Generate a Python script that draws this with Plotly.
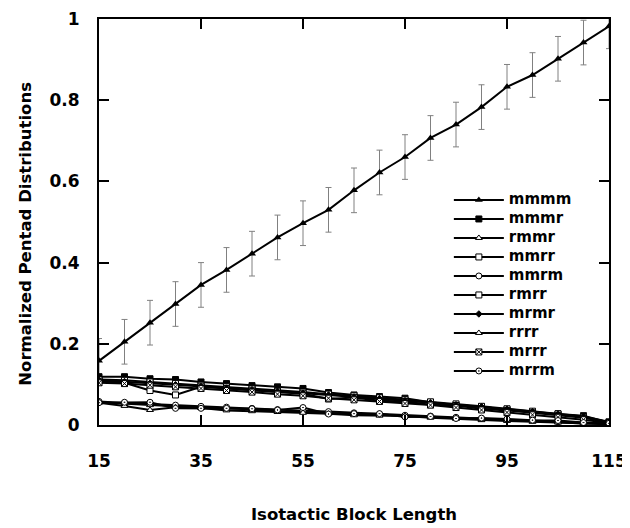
import plotly.graph_objects as go

# 等规嵌段长度
block_len = [15, 20, 25, 30, 35, 40, 45, 50, 55, 60, 65, 70, 75, 80, 85, 90, 95, 100, 105, 110, 115]

mmmm = [0.158, 0.205, 0.252, 0.298, 0.345, 0.382, 0.422, 0.462, 0.497, 0.530, 0.578,
        0.622, 0.660, 0.707, 0.740, 0.783, 0.833, 0.862, 0.902, 0.942, 0.982]
mmmm_err = [0.055] * 21
mmmr = [0.119, 0.119, 0.114, 0.112, 0.106, 0.102, 0.097, 0.094, 0.090, 0.080, 0.074,
        0.070, 0.066, 0.056, 0.049, 0.045, 0.038, 0.031, 0.027, 0.023, 0.006]
rmmr = [0.056, 0.052, 0.049, 0.046, 0.044, 0.041, 0.038, 0.034, 0.032, 0.030, 0.027,
        0.025, 0.022, 0.020, 0.017, 0.014, 0.012, 0.009, 0.007, 0.004, 0.002]
mmrr = [0.112, 0.110, 0.106, 0.102, 0.098, 0.094, 0.090, 0.085, 0.081, 0.076, 0.072,
        0.067, 0.062, 0.057, 0.052, 0.046, 0.040, 0.034, 0.028, 0.021, 0.008]
mmrm = [0.058, 0.054, 0.052, 0.049, 0.046, 0.044, 0.041, 0.038, 0.035, 0.033, 0.030,
        0.027, 0.024, 0.022, 0.019, 0.016, 0.013, 0.011, 0.008, 0.005, 0.003]
rmrr = [0.108, 0.104, 0.085, 0.074, 0.094, 0.090, 0.086, 0.082, 0.077, 0.064, 0.068,
        0.060, 0.058, 0.050, 0.048, 0.040, 0.036, 0.030, 0.024, 0.018, 0.006]
mrmr = [0.110, 0.107, 0.103, 0.099, 0.095, 0.091, 0.087, 0.083, 0.078, 0.074, 0.069,
        0.065, 0.060, 0.055, 0.050, 0.045, 0.039, 0.033, 0.027, 0.020, 0.007]
rrrr = [0.055, 0.047, 0.037, 0.044, 0.042, 0.036, 0.034, 0.032, 0.030, 0.028, 0.024,
        0.023, 0.022, 0.018, 0.015, 0.012, 0.010, 0.008, 0.006, 0.004, 0.002]
mrrr = [0.104, 0.102, 0.098, 0.094, 0.090, 0.085, 0.081, 0.076, 0.072, 0.066, 0.062,
        0.058, 0.053, 0.049, 0.043, 0.037, 0.031, 0.025, 0.019, 0.013, 0.005]
mrrm = [0.055, 0.056, 0.056, 0.041, 0.041, 0.041, 0.040, 0.037, 0.043, 0.027, 0.028,
        0.028, 0.020, 0.021, 0.016, 0.017, 0.015, 0.012, 0.011, 0.006, 0.004]

x_ticks = [15, 35, 55, 75, 95, 115]
y_ticks = [0, 0.2, 0.4, 0.6, 0.8, 1]

FONT = "DejaVu Sans"

# 名称, 数据, 符号, 填充色, 大小
series = [
    ("mmmr", mmmr, "square", "black", 6),
    ("rmmr", rmmr, "triangle-up", "white", 6),
    ("mmrr", mmrr, "square", "white", 6),
    ("mmrm", mmrm, "circle", "white", 6),
    ("rmrr", rmrr, "square", "white", 6),
    ("mrmr", mrmr, "diamond", "black", 5),
    ("rrrr", rrrr, "triangle-up", "white", 6),
    ("mrrr", mrrr, "square-x", "white", 6),
    ("mrrm", mrrm, "circle-dot", "white", 6),
]

fig = go.Figure()

# mmmm 带误差棒
fig.add_trace(go.Scatter(
    x=block_len, y=mmmm, name='<span style="font-size:15px">mmmm</span>',
    mode="lines+markers",
    line=dict(color="black", width=2),
    marker=dict(symbol="triangle-up", color="black", size=7),
    error_y=dict(type="data", array=mmmm_err, color="#808080", thickness=1, width=3),
))

for name, vals, sym, fill, size in series:
    fig.add_trace(go.Scatter(
        x=block_len, y=vals, name=f'<span style="font-size:15px">{name}</span>',
        mode="lines+markers",
        line=dict(color="black", width=2),
        marker=dict(symbol=sym, color=fill, size=size, line=dict(color="black", width=1)),
    ))

axis_common = dict(
    showline=True, linecolor="black", linewidth=2, mirror="ticks",
    ticks="inside", ticklen=10, tickwidth=2, tickcolor="black",
    showgrid=False, zeroline=False, automargin=False,
    tickfont=dict(family=FONT, size=17, color="black", weight="bold"),
)

fig.update_xaxes(
    range=[15, 115], tickvals=x_ticks, ticklabelstandoff=20,
    title=dict(text="Isotactic Block Length", standoff=38,
               font=dict(family=FONT, size=16.5, color="black", weight="bold")),
    **axis_common,
)
fig.update_yaxes(range=[0, 1], tickvals=y_ticks, ticklabelstandoff=14, **axis_common)

# y 轴标题（略低于图区中心）
fig.add_annotation(
    text="Normalized Pentad Distributions", textangle=-90,
    xref="paper", yref="paper", x=-0.144, y=0.47, xanchor="center", yanchor="middle",
    showarrow=False, font=dict(family=FONT, size=16.5, color="black", weight="bold"),
)

fig.update_layout(
    width=622, height=520,
    margin=dict(l=91, r=21, t=11, b=103),
    plot_bgcolor="white", paper_bgcolor="white",
    showlegend=True,
    legend=dict(
        x=0.686, y=0.59, xanchor="left", yanchor="top",
        bgcolor="rgba(0,0,0,0)", itemwidth=50,
        font=dict(family=FONT, size=10, color="black", weight="bold"),
    ),
)

fig.write_html("out.html")
